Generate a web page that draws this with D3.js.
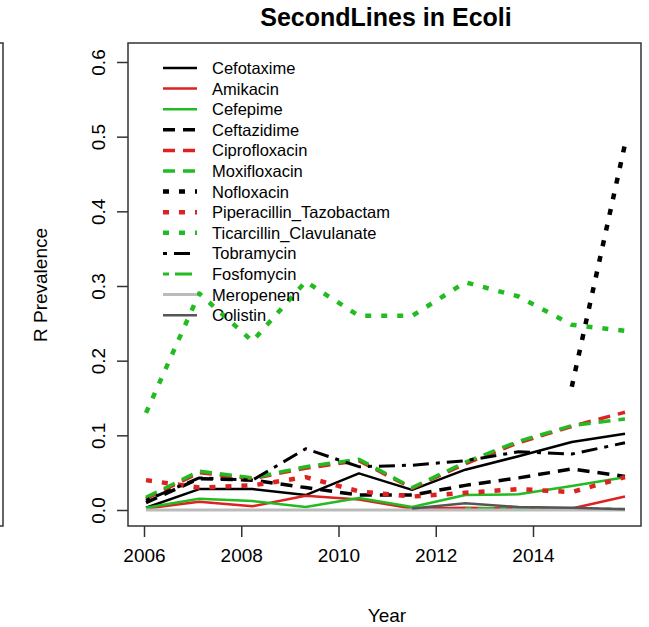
<!DOCTYPE html>
<html lang="en">
<head>
<meta charset="UTF-8">
<title>SecondLines in Ecoli</title>
<script src="https://d3js.org/d3.v7.min.js"></script>
<style>
  body { margin: 0; background: #fff; }
  svg text { font-family: "Liberation Sans", Arial, sans-serif; fill: #000; }
</style>
</head>
<body>
<svg id="chart"></svg>
<script>
// values
var years = [2006, 2007, 2008, 2009, 2010, 2011, 2012, 2013, 2014, 2015];
var yearTicks = [2006, 2008, 2010, 2012, 2014];
var yTicks = [0, 0.1, 0.2, 0.3, 0.4, 0.5, 0.6];

var cefotaxime    = [0.003, 0.028, 0.028, 0.020, 0.049, 0.027, 0.054, 0.072, 0.091, 0.102];
var amikacin      = [0.002, 0.011, 0.005, 0.019, 0.014, 0.002, 0.003, 0.002, 0.002, 0.018];
var cefepime      = [0.003, 0.015, 0.012, 0.004, 0.016, 0.004, 0.020, 0.021, 0.032, 0.044];
var ceftazidime   = [0.010, 0.042, 0.040, 0.030, 0.020, 0.020, 0.033, 0.043, 0.055, 0.045];
var ciprofloxacin = [0.015, 0.050, 0.042, 0.056, 0.066, 0.029, 0.062, 0.090, 0.112, 0.131];
var moxifloxacin  = [0.017, 0.052, 0.043, 0.058, 0.068, 0.030, 0.064, 0.092, 0.113, 0.122];
var nofloxacin    = [null, null, null, null, null, null, null, null, 0.165, 0.490];
var piperacillin  = [0.040, 0.030, 0.033, 0.044, 0.025, 0.018, 0.023, 0.028, 0.024, 0.044];
var ticarcillin   = [0.130, 0.290, 0.226, 0.306, 0.260, 0.260, 0.305, 0.286, 0.248, 0.240];
var tobramycin    = [0.013, 0.043, 0.040, 0.082, 0.058, 0.060, 0.066, 0.078, 0.075, 0.090];
var fosfomycin    = [null, null, null, null, null, null, 0.002, 0.002, 0.002, 0.001];
var meropenem     = [0, 0, 0, 0, 0, 0, 0, 0, 0, 0];
var colistin      = [null, null, null, null, null, 0.002, 0.009, 0.004, 0.003, 0.001];

var names = ["Cefotaxime", "Amikacin", "Cefepime", "Ceftazidime", "Ciprofloxacin",
             "Moxifloxacin", "Nofloxacin", "Piperacillin_Tazobactam",
             "Ticarcillin_Clavulanate", "Tobramycin", "Fosfomycin", "Meropenem", "Colistin"];
var values = [cefotaxime, amikacin, cefepime, ceftazidime, ciprofloxacin, moxifloxacin,
              nofloxacin, piperacillin, ticarcillin, tobramycin, fosfomycin, meropenem, colistin];

var black = "#000000", red = "#dd2222", green = "#22bb22";
// stroke, dash, width for each drug
var styles = [
  [black, null, 2.5], [red, null, 2.5], [green, null, 2.5],
  [black, "12,8", 3.5], [red, "12,8", 3.5], [green, "12,8", 3.5],
  [black, "6,10", 4.5], [red, "6,10", 4.5], [green, "6,10", 4.5],
  [black, "4,7,16,7", 3], [green, "6,6,17,6", 3],
  ["#bbbbbb", null, 3], ["#555555", null, 2.5]
];

var W = 649, H = 627;
var svg = d3.select("#chart").attr("width", W).attr("height", H);

var box = {left: 128, right: 641, top: 43, bottom: 526};

var x = d3.scaleLinear().domain([2006, 2015]).range([146, 625]);
// the year ticks in the picture sit on a tighter spacing than the data
var xAxisScale = d3.scaleLinear().domain([2006, 2014]).range([144, 533]);
var y = d3.scaleLinear().domain([0, 0.6]).range([510, 62]);

// edge of the neighbouring panel
svg.append("path")
  .attr("d", "M0,43H3V526H0")
  .attr("fill", "none").attr("stroke", "#333").attr("stroke-width", 1.5);

var line = d3.line()
  .defined(function(d) { return d != null; })
  .x(function(d, i) { return x(years[i]); })
  .y(function(d) { return y(d); });

values.forEach(function(v, k) {
  var s = styles[k];
  svg.append("path")
    .datum(v)
    .attr("d", line)
    .attr("fill", "none")
    .attr("stroke", s[0])
    .attr("stroke-width", s[2])
    .attr("stroke-dasharray", s[1])
    .attr("stroke-linejoin", "round");
});

// plot box
svg.append("rect")
  .attr("x", box.left).attr("y", box.top)
  .attr("width", box.right - box.left).attr("height", box.bottom - box.top)
  .attr("fill", "none").attr("stroke", "#333").attr("stroke-width", 1.5);

// x axis
var xAxis = svg.append("g")
  .attr("transform", "translate(0," + box.bottom + ")")
  .call(d3.axisBottom(xAxisScale).tickValues(yearTicks).tickFormat(d3.format("d"))
    .tickSize(11).tickSizeOuter(0).tickPadding(12));
xAxis.select(".domain").remove();
xAxis.selectAll("line").attr("stroke", "#333").attr("stroke-width", 1.5);
xAxis.selectAll("text").attr("font-size", 19).attr("font-family", "Liberation Sans, Arial, sans-serif");

// y axis
var yAxis = svg.append("g")
  .attr("transform", "translate(" + box.left + ",0)")
  .call(d3.axisLeft(y).tickValues(yTicks).tickFormat(d3.format(".1f"))
    .tickSize(11).tickSizeOuter(0));
yAxis.select(".domain").remove();
yAxis.selectAll("line").attr("stroke", "#333").attr("stroke-width", 1.5);
yAxis.selectAll("text")
  .attr("font-size", 19).attr("font-family", "Liberation Sans, Arial, sans-serif")
  .attr("text-anchor", "middle").attr("x", null).attr("dy", null)
  .attr("transform", "translate(-28,0) rotate(-90)")
  .attr("dominant-baseline", "middle");

// titles
svg.append("text")
  .attr("x", 386).attr("y", 26)
  .attr("text-anchor", "middle")
  .attr("font-size", 25).attr("font-weight", "bold")
  .text("SecondLines in Ecoli");

svg.append("text")
  .attr("x", 387).attr("y", 622)
  .attr("text-anchor", "middle")
  .attr("font-size", 19)
  .text("Year");

svg.append("text")
  .attr("transform", "translate(47,285) rotate(-90)")
  .attr("text-anchor", "middle")
  .attr("font-size", 19)
  .text("R Prevalence");

// legend
var legend = svg.append("g");
names.forEach(function(n, k) {
  var s = styles[k];
  var ly = 68 + k * 20.6;
  legend.append("line")
    .attr("x1", 163).attr("x2", 197).attr("y1", ly).attr("y2", ly)
    .attr("stroke", s[0]).attr("stroke-width", s[2])
    .attr("stroke-dasharray", s[1]);
  legend.append("text")
    .attr("x", 212).attr("y", ly)
    .attr("dominant-baseline", "central")
    .attr("font-size", 16.5)
    .text(n);
});
</script>
</body>
</html>
